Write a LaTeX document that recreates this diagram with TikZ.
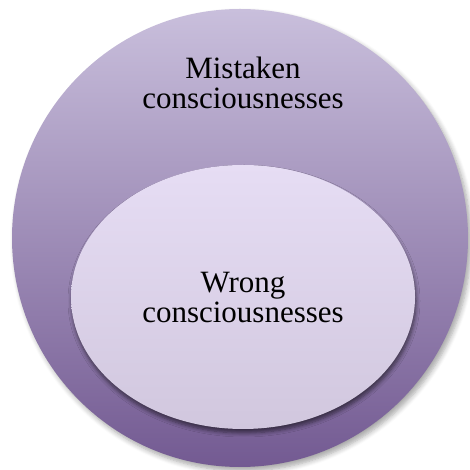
\documentclass[tikz,border=0pt]{standalone}
\usepackage{fontspec}
\setmainfont{Liberation Serif}
\usetikzlibrary{shadows,shadows.blur}
\definecolor{outtop}{HTML}{C9BFDC}
\definecolor{outbot}{HTML}{735A92}
\definecolor{intop}{HTML}{E6DDF4}
\definecolor{inbot}{HTML}{D1C7DE}
\tikzset{
  lbl/.style={align=center, font=\fontsize{31pt}{30pt}\selectfont, text=black},
  outer/.style={top color=outtop, bottom color=outbot, draw=none,
    blur shadow={shadow xshift=3pt, shadow yshift=-4pt, shadow blur steps=6, shadow blur radius=5pt, shadow opacity=35}},
  inner/.style={top color=intop, bottom color=inbot, draw=none,
    blur shadow={shadow xshift=1pt, shadow yshift=-4pt, shadow blur steps=6, shadow blur radius=4pt, shadow opacity=55}}
}
\begin{document}
\begin{tikzpicture}[x=1pt,y=1pt]
\useasboundingbox (0,0) rectangle (469,470);
\path[outer] (240,232) ellipse [x radius=228, y radius=229];
\path[inner] (243,173) ellipse [x radius=172, y radius=132];
\node[lbl] (mistaken) at (243,387) {Mistaken\\consciousnesses};
\node[lbl] (wrong) at (243,172) {Wrong\\consciousnesses};
\end{tikzpicture}
\end{document}
